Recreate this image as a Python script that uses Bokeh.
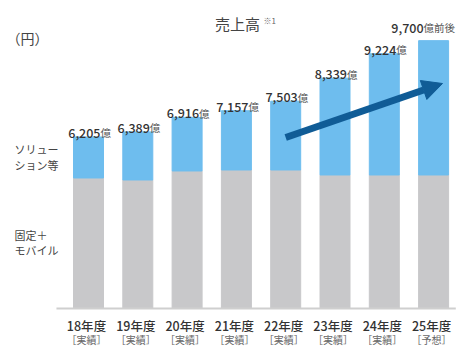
from bokeh.plotting import figure
from bokeh.models import Range1d, Label, Arrow, NormalHead, ColumnDataSource
from bokeh.core.properties import value
from bokeh.embed import file_html
from bokeh.resources import INLINE

# ---- data ----
years = ["18年度", "19年度", "20年度", "21年度", "22年度", "23年度", "24年度", "25年度"]
status = ["［実績］"] * 7 + ["［予想］"]
total = [6205, 6389, 6916, 7157, 7503, 8339, 9224, 9700]          # 売上高 (億円)
fixed_mobile = [4717, 4644, 4971, 5007, 5007, 4826, 4826, 4826]   # 固定＋モバイル (estimated)
value_text = ["6,205", "6,389", "6,916", "7,157", "7,503", "8,339", "9,224", "9,700"]
suffix = ["億"] * 7 + ["億前後"]

FONT = "Noto Sans CJK JP"
FONT_MED = "Noto Sans CJK JP Medium"
BLUE = "#6ebdee"
GRAY = "#c8c8ca"
ARROW = "#105c96"

n = len(years)
xs = list(range(n))

# pixel geometry of the reference: bar centres at 88 + 49.3*i, baseline at y=307.5, 36.28 億 per px
px_step = 49.3
unit = 36.28
x0 = -88 / px_step
x1 = (470 - 88) / px_step
y0 = -(360 - 307.5) * unit
y1 = 307.5 * unit

p = figure(width=470, height=360, output_backend="svg", toolbar_location=None,
           x_range=Range1d(x0, x1), y_range=Range1d(y0, y1),
           min_border=0, min_border_left=0, min_border_right=0,
           min_border_top=0, min_border_bottom=0)
p.axis.visible = False
p.grid.visible = False
p.outline_line_color = None
p.background_fill_color = "white"
p.border_fill_color = "white"

src = ColumnDataSource(dict(
    x=xs, total=total, fixed=fixed_mobile, years=years, status=status,
    vt=value_text, suf=suffix,
    xoff=[12 - 11 * (len(s) - 1) for s in suffix],
    yoff=[-4] * 7 + [-13],
))

bw = 30 / px_step
p.vbar(x="x", bottom=0, top="fixed", width=bw, color=GRAY, source=src)
p.vbar(x="x", bottom="fixed", top="total", width=bw, color=BLUE, source=src)

# baseline
p.segment(x0=[-0.65], y0=[-0.5 * unit], x1=[7.45], y1=[-0.5 * unit],
          line_color="#cfcfcf", line_width=2)

# value labels
p.text(x="x", y="total", text="vt", source=src, x_offset="xoff", y_offset="yoff",
       text_align="right", text_baseline="alphabetic", text_font=value(FONT_MED),
       text_font_size="12.5px", text_color="#333333")
p.text(x="x", y="total", text="suf", source=src, x_offset="xoff", y_offset="yoff",
       text_align="left", text_baseline="alphabetic", text_font=value(FONT),
       text_font_size="10.5px", text_color="#555555")

# category labels
p.text(x="x", y=0, text="years", source=src, x_offset=-2, y_offset=17,
       text_align="center", text_baseline="middle", text_font=value(FONT_MED),
       text_font_size="12.5px", text_color="#333333")
p.text(x="x", y=0, text="status", source=src, x_offset=-2, y_offset=31,
       text_align="center", text_baseline="middle", text_font=value(FONT),
       text_font_size="10px", text_color="#666666")

# arrow
p.add_layout(Arrow(end=NormalHead(size=20, fill_color=ARROW, line_color=ARROW),
                   x_start=4.0, y_start=(307.5 - 137) * unit,
                   x_end=(442 - 88) / px_step, y_end=(307.5 - 83) * unit,
                   line_color=ARROW, line_width=7))

def lab(text, x, y, size, color="#444444", align="left", style="normal"):
    p.add_layout(Label(x=x, y=y, x_units="screen", y_units="screen", text=text,
                       text_font=FONT, text_font_size=size, text_color=color,
                       text_align=align, text_baseline="middle", text_font_style=style))

lab("売上高", 237, 337, "15px", align="center")
lab("※1", 263, 340, "8px", color="#666666")
lab("（円）", 6, 323, "14px")
lab("ソリュー", 14, 212, "11px")
lab("ション等", 14, 196, "11px")
lab("固定＋", 14, 126, "11px")
lab("モバイル", 14, 111, "11px")

open("out.html", "w").write(file_html(p, INLINE))
